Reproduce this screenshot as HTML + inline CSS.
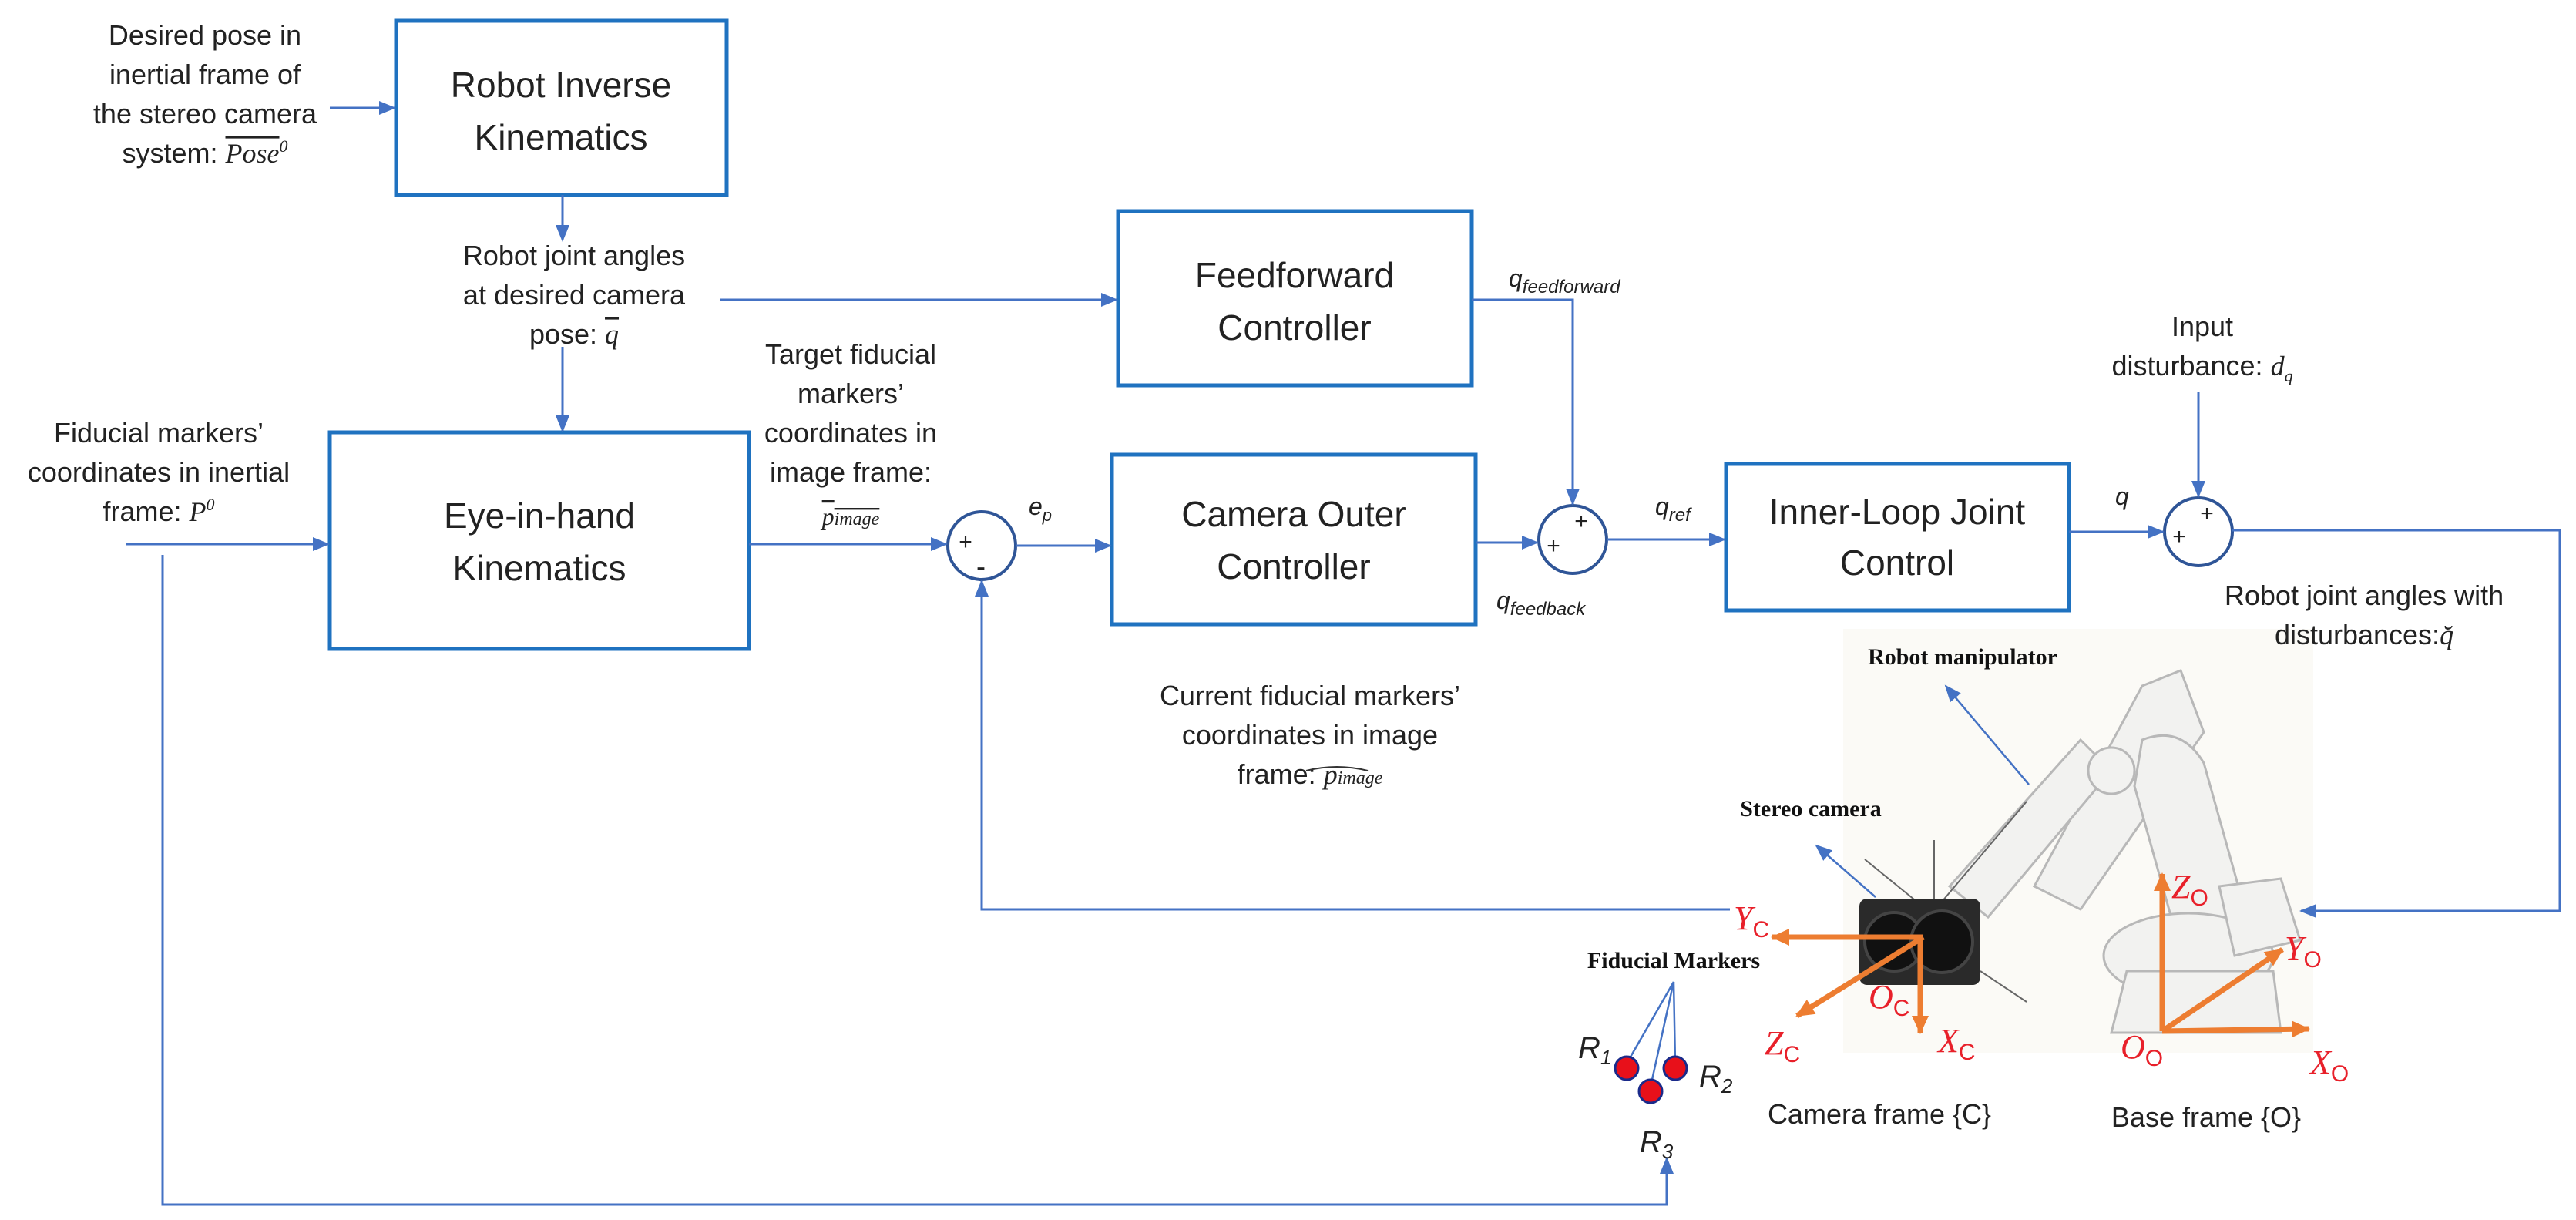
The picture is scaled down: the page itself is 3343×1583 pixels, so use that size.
<!DOCTYPE html>
<html><head><meta charset="utf-8"><style>
html,body{margin:0;padding:0;background:#fff}
svg{display:block}
text{font-family:"Liberation Sans",sans-serif;fill:#222}
.t{font-size:36px}
.b{font-size:46px}
.m{font-family:"Liberation Serif",serif;font-style:italic}
text.r,.r text{font-family:"Liberation Serif",serif;font-style:italic;fill:#e8202a}
.r tspan{fill:#e8202a}
.bs{font-family:"Liberation Serif",serif;font-weight:bold;font-size:30px;fill:#111}
</style></head><body>
<svg width="3343" height="1583" viewBox="0 0 3343 1583" xmlns="http://www.w3.org/2000/svg">
<defs>
<marker id="ab" markerWidth="22" markerHeight="22" refX="20" refY="11" orient="auto" markerUnits="userSpaceOnUse"><path d="M0,2 L22,11 L0,20 z" fill="#4472c4"/></marker>
<marker id="ao" markerWidth="26" markerHeight="26" refX="22" refY="13" orient="auto" markerUnits="userSpaceOnUse"><path d="M0,2 L24,13 L0,24 z" fill="#ed7d31"/></marker>
</defs>

<!-- Robot image area -->
<rect x="2392" y="816" width="610" height="550" fill="#fbfaf6"/>
<g fill="#f2f2f0" stroke="#b8b8b8" stroke-width="3">
<path d="M2780,890 L2830,870 L2860,950 L2700,1180 L2640,1150 Z"/>
<path d="M2530,1150 L2700,960 L2740,1000 L2580,1190 Z"/>
<path d="M2780,960 Q2830,940 2860,990 L2930,1240 L2840,1270 L2770,1020 Z"/>
<ellipse cx="2840" cy="1240" rx="110" ry="55"/>
<path d="M2760,1260 L2950,1260 L2960,1340 L2740,1340 Z"/>
<path d="M2880,1150 L2960,1140 L2985,1220 L2900,1240 Z"/>
<circle cx="2740" cy="1000" r="30"/>
</g>
<g stroke="#666" stroke-width="2">
<line x1="2510" y1="1090" x2="2510" y2="1170"/>
<line x1="2420" y1="1115" x2="2500" y2="1180"/>
<line x1="2520" y1="1170" x2="2630" y2="1040"/>
<line x1="2570" y1="1260" x2="2630" y2="1300"/>
</g>
<rect x="2413" y="1166" width="157" height="112" rx="10" fill="#2a2a2a"/>
<circle cx="2458" cy="1222" r="38" fill="#111" stroke="#444" stroke-width="4"/>
<circle cx="2520" cy="1222" r="40" fill="#111" stroke="#444" stroke-width="4"/>

<!-- Boxes -->
<g fill="none" stroke="#1f72c0" stroke-width="5">
<rect x="514" y="27" width="429" height="226"/>
<rect x="1451" y="274" width="459" height="226"/>
<rect x="428" y="561" width="544" height="281"/>
<rect x="1443" y="590" width="472" height="220"/>
<rect x="2240" y="602" width="445" height="190"/>
</g>
<g class="b" text-anchor="middle">
<text x="728" y="126">Robot Inverse</text>
<text x="728" y="194">Kinematics</text>
<text x="1680" y="373">Feedforward</text>
<text x="1680" y="441">Controller</text>
<text x="700" y="685">Eye-in-hand</text>
<text x="700" y="753">Kinematics</text>
<text x="1679" y="683">Camera Outer</text>
<text x="1679" y="751">Controller</text>
<text x="2462" y="680">Inner-Loop Joint</text>
<text x="2462" y="746">Control</text>
</g>

<!-- Sum junctions -->
<g fill="none" stroke="#2f5597" stroke-width="4">
<circle cx="1274" cy="708" r="44"/>
<circle cx="2041" cy="700" r="44"/>
<circle cx="2853" cy="690" r="44"/>
</g>
<g font-size="30" text-anchor="middle">
<text x="1253" y="713">+</text><text x="1273" y="747" font-size="36">-</text>
<text x="2052" y="686">+</text><text x="2016" y="718">+</text>
<text x="2864" y="676">+</text><text x="2828" y="706">+</text>
</g>

<!-- Connectors -->
<g fill="none" stroke="#4472c4" stroke-width="3">
<line x1="428" y1="140" x2="512" y2="140" marker-end="url(#ab)"/>
<line x1="730" y1="253" x2="730" y2="312" marker-end="url(#ab)"/>
<line x1="934" y1="389" x2="1449" y2="389" marker-end="url(#ab)"/>
<line x1="730" y1="450" x2="730" y2="559" marker-end="url(#ab)"/>
<line x1="163" y1="706" x2="426" y2="706" marker-end="url(#ab)"/>
<polyline points="211,720 211,1563 2163,1563 2163,1503" marker-end="url(#ab)"/>
<line x1="972" y1="706" x2="1228" y2="706" marker-end="url(#ab)"/>
<line x1="1318" y1="708" x2="1441" y2="708" marker-end="url(#ab)"/>
<polyline points="2245,1180 1274,1180 1274,754" marker-end="url(#ab)"/>
<line x1="1915" y1="704" x2="1995" y2="704" marker-end="url(#ab)"/>
<polyline points="1910,389 2041,389 2041,654" marker-end="url(#ab)"/>
<line x1="2085" y1="700" x2="2238" y2="700" marker-end="url(#ab)"/>
<line x1="2685" y1="690" x2="2807" y2="690" marker-end="url(#ab)"/>
<line x1="2853" y1="508" x2="2853" y2="644" marker-end="url(#ab)"/>
<polyline points="2897,688 3322,688 3322,1182 2986,1182" marker-end="url(#ab)"/>
</g>

<!-- Labels -->
<g class="t" text-anchor="middle">
<text x="266" y="58">Desired pose in</text>
<text x="266" y="109">inertial frame of</text>
<text x="266" y="160">the stereo camera</text>
<text x="266" y="211">system: <tspan class="m" text-decoration="overline">Pose</tspan><tspan class="m" font-size="22" dy="-14">0</tspan></text>
<text x="745" y="344">Robot joint angles</text>
<text x="745" y="395">at desired camera</text>
<text x="745" y="446">pose: <tspan class="m" text-decoration="overline">q</tspan></text>
<text x="206" y="574">Fiducial markers’</text>
<text x="206" y="625">coordinates in inertial</text>
<text x="206" y="676">frame: <tspan class="m">P</tspan><tspan class="m" font-size="22" dy="-14">0</tspan></text>
<text x="1104" y="472">Target fiducial</text>
<text x="1104" y="523">markers’</text>
<text x="1104" y="574">coordinates in</text>
<text x="1104" y="625">image frame:</text>
<text x="1104" y="681" class="m" font-size="32" text-decoration="overline">p<tspan font-size="24">image</tspan></text>
<text x="1700" y="915">Current fiducial markers’</text>
<text x="1700" y="966">coordinates in image</text>
<text x="1700" y="1017">frame: <tspan class="m">p</tspan><tspan class="m" font-size="24">image</tspan></text>
<text x="2858" y="436">Input</text>
<text x="2858" y="487">disturbance: <tspan class="m">d</tspan><tspan class="m" font-size="22" dy="8">q</tspan></text>
<text x="3068" y="785">Robot joint angles with</text>
<text x="3068" y="836">disturbances:<tspan class="m">q̆</tspan></text>
</g>
<path d="M1695,1000 Q1735,990 1775,1000" stroke="#333" stroke-width="2" fill="none"/>
<g class="m" font-size="32">
<text x="1335" y="668">e<tspan font-size="22" dy="8">p</tspan></text>
<text x="1958" y="372">q<tspan font-size="24" dy="8">feedforward</tspan></text>
<text x="1942" y="790">q<tspan font-size="24" dy="8">feedback</tspan></text>
<text x="2148" y="668">q<tspan font-size="24" dy="8">ref</tspan></text>
<text x="2745" y="655">q</text>
</g>

<!-- pointer arrows -->
<g stroke="#4472c4" stroke-width="2.5" fill="none">
<line x1="2633" y1="1018" x2="2525" y2="890" marker-end="url(#ab)"/>
<line x1="2434" y1="1164" x2="2357" y2="1097" marker-end="url(#ab)"/>
<line x1="2172" y1="1274" x2="2111" y2="1380"/>
<line x1="2172" y1="1274" x2="2142" y2="1410"/>
<line x1="2172" y1="1274" x2="2174" y2="1380"/>
</g>
<text x="2547" y="862" class="bs" text-anchor="middle">Robot manipulator</text>
<text x="2350" y="1059" class="bs" text-anchor="middle">Stereo camera</text>
<text x="2172" y="1256" class="bs" text-anchor="middle">Fiducial Markers</text>
<!-- frames -->
<g stroke="#ed7d31" stroke-width="7" fill="none">
<line x1="2496" y1="1216" x2="2300" y2="1216" marker-end="url(#ao)"/>
<line x1="2496" y1="1216" x2="2332" y2="1318" marker-end="url(#ao)"/>
<line x1="2492" y1="1216" x2="2492" y2="1340" marker-end="url(#ao)"/>
<line x1="2806" y1="1338" x2="2806" y2="1134" marker-end="url(#ao)"/>
<line x1="2806" y1="1338" x2="2996" y2="1335" marker-end="url(#ao)"/>
<line x1="2806" y1="1338" x2="2962" y2="1232" marker-end="url(#ao)"/>
</g>
<g class="r" font-size="44">
<text x="2250" y="1206">Y<tspan font-family="Liberation Sans" font-style="normal" font-size="30" dy="10">C</tspan></text>
<text x="2290" y="1368">Z<tspan font-family="Liberation Sans" font-style="normal" font-size="30" dy="10">C</tspan></text>
<text x="2425" y="1308">O<tspan font-family="Liberation Sans" font-style="normal" font-size="30" dy="10">C</tspan></text>
<text x="2515" y="1365">X<tspan font-family="Liberation Sans" font-style="normal" font-size="30" dy="10">C</tspan></text>
<text x="2818" y="1165">Z<tspan font-family="Liberation Sans" font-style="normal" font-size="30" dy="10">O</tspan></text>
<text x="2965" y="1245">Y<tspan font-family="Liberation Sans" font-style="normal" font-size="30" dy="10">O</tspan></text>
<text x="2752" y="1373">O<tspan font-family="Liberation Sans" font-style="normal" font-size="30" dy="10">O</tspan></text>
<text x="2998" y="1393">X<tspan font-family="Liberation Sans" font-style="normal" font-size="30" dy="10">O</tspan></text>
</g>
<!-- markers -->
<g fill="#e8101a" stroke="#1a2a8a" stroke-width="3">
<circle cx="2111" cy="1386" r="15"/>
<circle cx="2174" cy="1386" r="15"/>
<circle cx="2142" cy="1416" r="15"/>
</g>
<g class="m" font-size="40">
<text x="2048" y="1373">R<tspan font-size="26" dy="8">1</tspan></text>
<text x="2205" y="1410">R<tspan font-size="26" dy="8">2</tspan></text>
<text x="2128" y="1495">R<tspan font-size="26" dy="8">3</tspan></text>
</g>
<g class="t" text-anchor="middle">
<text x="2439" y="1458">Camera frame {C}</text>
<text x="2863" y="1462">Base frame {O}</text>
</g>
</svg>
</body></html>
